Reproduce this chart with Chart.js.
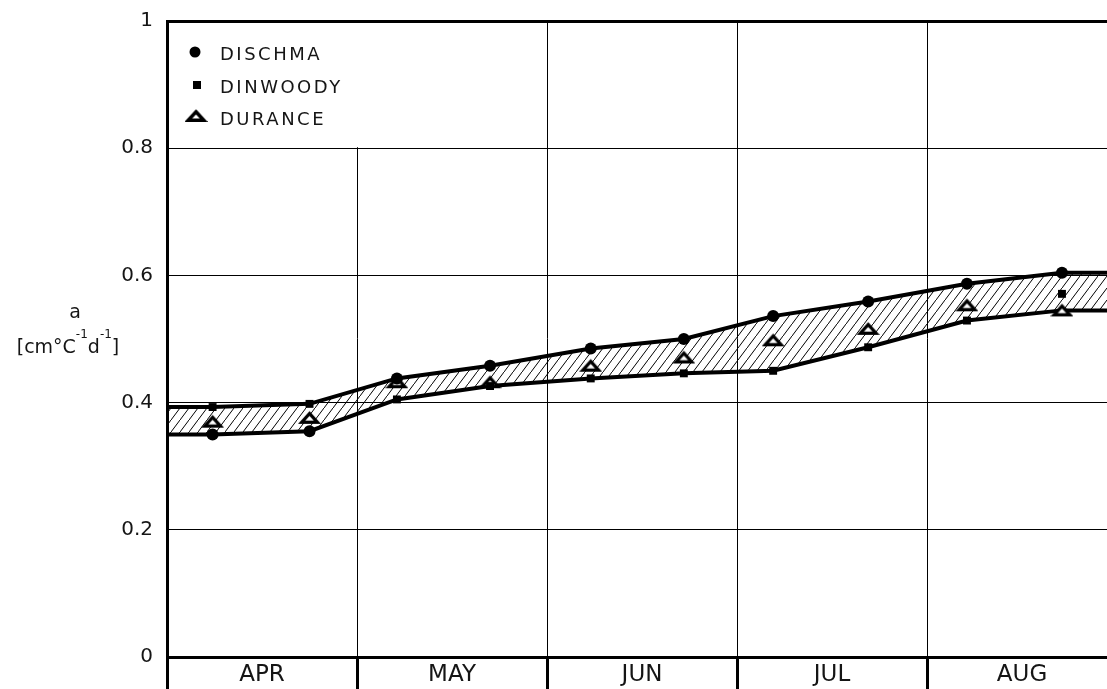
<!DOCTYPE html>
<html>
<head>
<meta charset="utf-8">
<script src="https://cdn.jsdelivr.net/npm/chart.js@4/dist/chart.umd.min.js"></script>
<style>
html, body { margin: 0; padding: 0; background: #fff; }
</style>
</head>
<body>
<canvas id="ddfChart" width="1107" height="689"></canvas>
<script>
// month categories and where each value sits along the month axis (0 = start of APR)
var months   = ['APR', 'MAY', 'JUN', 'JUL', 'AUG'];
var xPos     = [0.24, 0.75, 1.21, 1.70, 2.23, 2.72, 3.19, 3.69, 4.21, 4.71];
var xEnd     = 4.947;

// degree-day factor a [cm °C-1 d-1]
var dischma  = [0.350, 0.355, 0.438, 0.458, 0.485, 0.500, 0.536, 0.559, 0.587, 0.604];
var dinwoody = [0.393, 0.398, 0.405, 0.426, 0.438, 0.446, 0.450, 0.487, 0.529, 0.571];
var durance  = [0.370, 0.376, 0.432, 0.432, 0.458, 0.471, 0.498, 0.516, 0.553, 0.545];

var yTicks   = [0, 0.2, 0.4, 0.6, 0.8, 1];

var TEXT = '#151515';
var FONT = 'DejaVu Sans';

var toPoints = function (arr) {
    return arr.map(function (v, i) { return { x: xPos[i], y: v }; });
};

// envelope (max / min of the three basins), carried flat to both plot edges
var envelope = function (pick) {
    var vals = xPos.map(function (x, i) { return pick(dischma[i], dinwoody[i], durance[i]); });
    var pts = toPoints(vals);
    pts.unshift({ x: 0, y: vals[0] });
    pts.push({ x: xEnd, y: vals[vals.length - 1] });
    return pts;
};

var makeTriangle = function (w, h, lw) {
    var c = document.createElement('canvas');
    c.width = w + 4;
    c.height = h + 4;
    var g = c.getContext('2d');
    g.beginPath();
    g.moveTo(c.width / 2, 2 + lw / 2);
    g.lineTo(c.width - 2 - lw / 2, c.height - 2 - lw / 2);
    g.lineTo(2 + lw / 2, c.height - 2 - lw / 2);
    g.closePath();
    g.fillStyle = '#fff';
    g.fill();
    g.lineWidth = lw;
    g.lineJoin = 'miter';
    g.strokeStyle = '#000';
    g.stroke();
    return c;
};

var makeHatch = function (ctx) {
    var c = document.createElement('canvas');
    c.width = 9;
    c.height = 12;
    var g = c.getContext('2d');
    g.strokeStyle = '#000';
    g.lineWidth = 1;
    g.beginPath();
    g.moveTo(-1, 13.33); g.lineTo(10, -1.33);
    g.stroke();
    return ctx.createPattern(c, 'repeat');
};

var canvas = document.getElementById('ddfChart');
var ctx = canvas.getContext('2d');
var triPlot = makeTriangle(19, 12, 3.2);
var triLegend = makeTriangle(19, 12, 3.5);

var xTickValues = [];
months.forEach(function (m, i) { xTickValues.push(i, i + 0.5); });
var isBoundary = function (c) { return c.tick && c.tick.value % 1 === 0; };

var legendBox = {
    id: 'legendBox',
    afterDraw: function (chart) {
        var c = chart.ctx;
        var area = chart.chartArea;
        var xs = chart.scales.x, ys = chart.scales.y;
        c.save();
        c.fillStyle = '#fff';
        c.fillRect(area.left + 2, area.top + 2, xs.getPixelForValue(1) + 2 - area.left - 2, ys.getPixelForValue(0.8) - 1 - area.top - 2);
        c.fillStyle = '#000';
        c.beginPath();
        c.arc(195, 52, 5.5, 0, Math.PI * 2);
        c.fill();
        c.fillRect(193, 81, 8, 8);
        c.drawImage(triLegend, 196 - triLegend.width / 2, 116 - triLegend.height / 2);
        c.fillStyle = TEXT;
        c.font = '18px "' + FONT + '"';
        c.textBaseline = 'middle';
        c.letterSpacing = '2.5px';
        c.fillText('DISCHMA', 220, 55);
        c.fillText('DINWOODY', 220, 88);
        c.fillText('DURANCE', 220, 120);
        c.restore();
    }
};

var yTitle = {
    id: 'yTitle',
    afterDraw: function (chart) {
        var c = chart.ctx;
        c.save();
        c.fillStyle = TEXT;
        c.textBaseline = 'alphabetic';
        c.font = '19px "' + FONT + '"';
        c.textAlign = 'center';
        c.fillText('a', 75, 318);
        c.textAlign = 'left';
        var parts = [['[cm°C', 0], ['-1', 1], ['d', 0], ['-1', 1], [']', 0]];
        var fontFor = function (sup) { return (sup ? '12px "' : '19px "') + FONT + '"'; };
        var total = 0;
        parts.forEach(function (p) { c.font = fontFor(p[1]); total += c.measureText(p[0]).width; });
        var x = 68 - total / 2;
        parts.forEach(function (p) {
            c.font = fontFor(p[1]);
            c.fillText(p[0], x, p[1] ? 338 : 353);
            x += c.measureText(p[0]).width;
        });
        c.restore();
    }
};

new Chart(ctx, {
    type: 'line',
    data: {
        datasets: [
            {
                label: 'upper',
                data: envelope(Math.max),
                borderColor: '#000',
                borderWidth: 4,
                backgroundColor: makeHatch(ctx),
                fill: '+1',
                pointRadius: 0,
                tension: 0,
                order: 2
            },
            {
                label: 'lower',
                data: envelope(Math.min),
                borderColor: '#000',
                borderWidth: 4,
                fill: false,
                pointRadius: 0,
                tension: 0,
                order: 2
            },
            {
                label: 'DISCHMA',
                data: toPoints(dischma),
                showLine: false,
                pointStyle: 'circle',
                pointRadius: 6,
                pointBackgroundColor: '#000',
                pointBorderWidth: 0,
                order: 1
            },
            {
                label: 'DINWOODY',
                data: toPoints(dinwoody),
                showLine: false,
                pointStyle: 'rect',
                pointRadius: 5.6,
                pointBackgroundColor: '#000',
                pointBorderWidth: 0,
                order: 1
            },
            {
                label: 'DURANCE',
                data: toPoints(durance),
                showLine: false,
                pointStyle: triPlot,
                order: 1
            }
        ]
    },
    options: {
        responsive: false,
        devicePixelRatio: 1,
        animation: false,
        layout: { autoPadding: false, padding: { top: 21, right: 0, bottom: 0, left: 0 } },
        plugins: {
            legend: { display: false },
            tooltip: { enabled: false }
        },
        scales: {
            x: {
                type: 'linear',
                min: 0,
                max: xEnd,
                afterBuildTicks: function (scale) {
                    scale.ticks = xTickValues.map(function (v) { return { value: v }; });
                },
                afterFit: function (scale) {
                    scale.height = 32;
                    scale.paddingLeft = 0;
                    scale.paddingRight = 0;
                },
                grid: {
                    color: function (c) { return isBoundary(c) ? '#000' : 'rgba(0,0,0,0)'; },
                    lineWidth: 1,
                    drawTicks: true,
                    tickLength: 32,
                    tickWidth: 3,
                    tickColor: function (c) { return isBoundary(c) ? '#000' : 'rgba(0,0,0,0)'; }
                },
                border: { color: '#000', width: 3 },
                ticks: {
                    autoSkip: false,
                    maxRotation: 0,
                    padding: -28,
                    color: TEXT,
                    font: { family: FONT, size: 23 },
                    callback: function (v) { return v % 1 ? months[Math.floor(v)] : ''; }
                }
            },
            y: {
                min: 0,
                max: 1,
                afterBuildTicks: function (scale) {
                    scale.ticks = yTicks.map(function (v) { return { value: v }; });
                },
                afterFit: function (scale) {
                    scale.width = 167;
                    scale.paddingTop = 0;
                    scale.paddingBottom = 0;
                },
                grid: {
                    color: '#000',
                    lineWidth: function (c) { return c.tick && (c.tick.value === 1 || c.tick.value === 0) ? 3 : 1; },
                    drawTicks: false
                },
                border: { color: '#000', width: 3 },
                ticks: {
                    padding: 14,
                    color: TEXT,
                    font: { family: FONT, size: 20 },
                    callback: function (v) { return String(v); }
                }
            }
        }
    },
    plugins: [legendBox, yTitle]
});
</script>
</body>
</html>
